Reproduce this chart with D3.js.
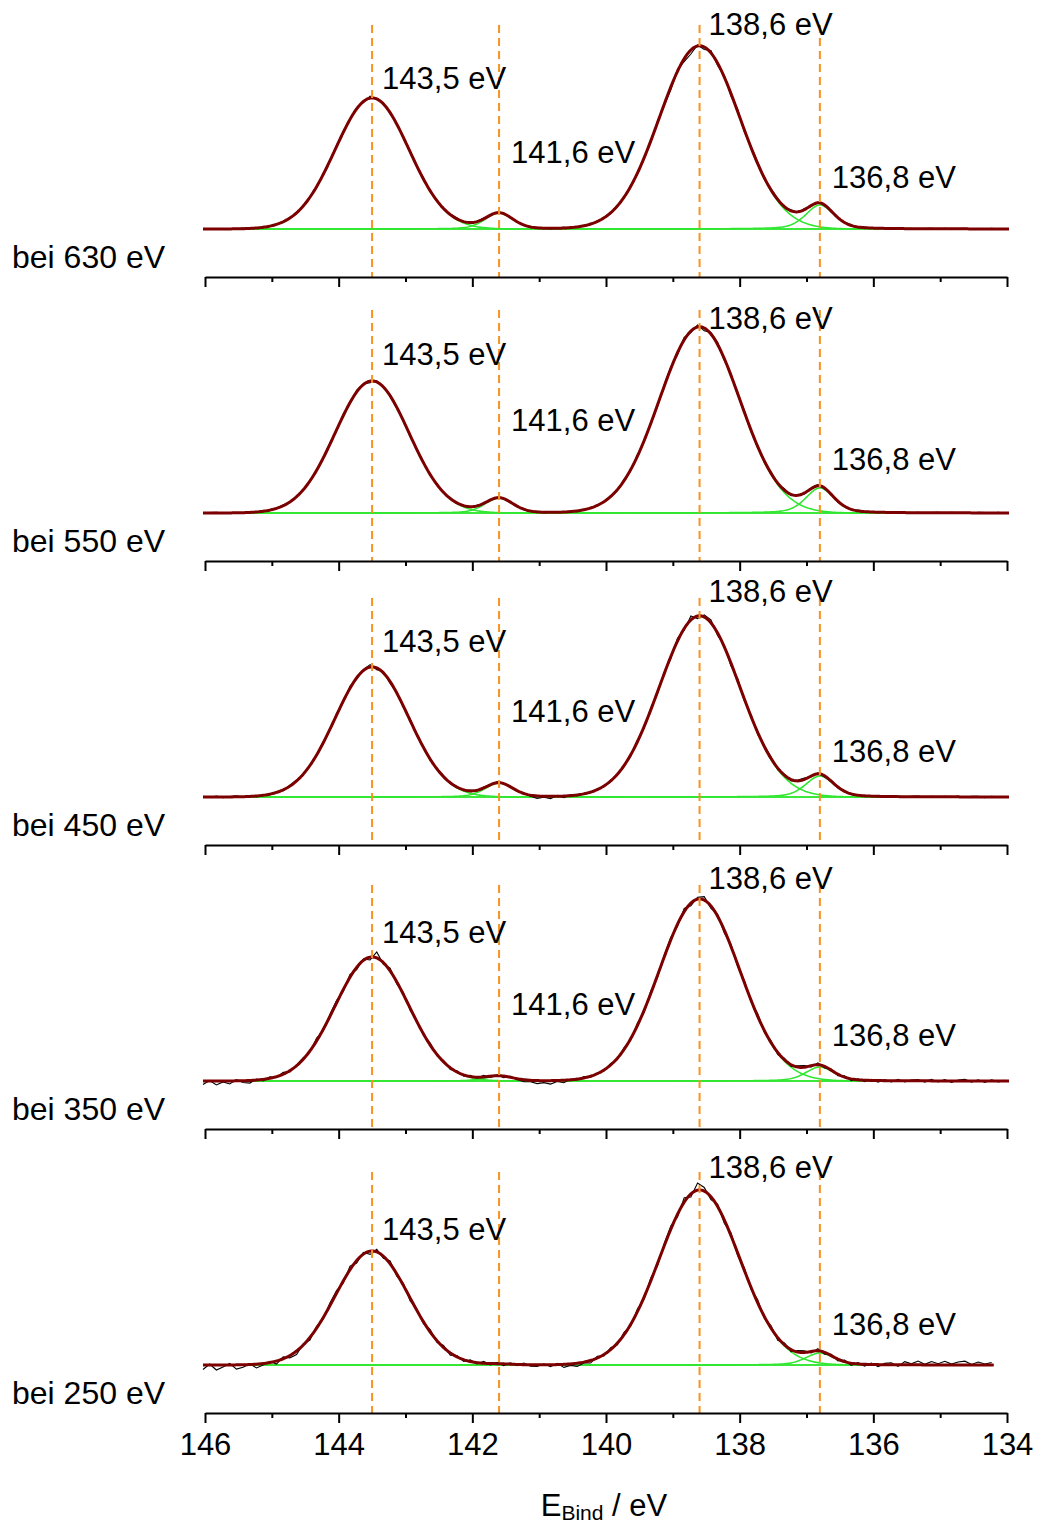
<!DOCTYPE html>
<html>
<head>
<meta charset="utf-8">
<script src="https://cdn.jsdelivr.net/npm/d3@7"></script>
<style>
  body { margin: 0; background: #fff; }
  svg { display: block; }
  text { font-family: "Liberation Sans", Arial, Helvetica, sans-serif; fill: #000; }
</style>
</head>
<body>
<svg id="chart" width="1037" height="1523"></svg>
<script>
// ---- Spectra: B 2p region measured at five excitation energies ----
const excitation = ["bei 630 eV", "bei 550 eV", "bei 450 eV", "bei 350 eV", "bei 250 eV"];

// Fitted components (binding energy, eV) and their labels
const peakCenters = [143.5, 141.6, 138.6, 136.8];
const peakLabels  = ["143,5 eV", "141,6 eV", "138,6 eV", "136,8 eV"];
const peakFwhm    = [1.3, 0.5, 1.42, 0.5];
const peakLorentz = [0.0, 0.3, 0.0, 0.4];

// Component heights (a.u.) per excitation energy
const heights630 = [131, 16, 183, 24];
const heights550 = [132, 15, 186, 25];
const heights450 = [130, 14, 181, 21];
const heights350 = [124, 5, 182, 14];
const heights250 = [114, 1, 175, 12];

// Measured range (eV) per spectrum
const rangeStart = [146.03, 146.03, 146.03, 146.03, 146.03];
const rangeEnd   = [133.97, 133.97, 133.97, 133.97, 134.2];
const sampleStep = 0.1;

// Measured minus fit (a.u.), one value per 0.1 eV from the start of the range downwards
const resid630 = [
  0.4,-0.3,0.2,0.5,-0.4,0.1,0.6,-0.2,0.3,-0.5,
  0.2,0.7,-0.4,0.5,-0.6,1.0,0.4,-0.8,0.9,-0.5,
  1.2,-0.9,0.6,1.4,-1.1,2.0,-0.6,1.3,-1.4,0.8,
  -1.2,1.0,-0.7,1.1,-0.5,0.8,-0.9,0.6,1.0,-0.6,
  0.5,-0.4,0.7,-0.5,0.4,0.6,-0.6,0.3,-0.5,0.6,
  -0.4,0.5,-0.6,0.4,0.6,-0.3,0.3,-0.5,0.7,-0.6,
  0.5,-0.7,0.9,-1.0,1.3,-1.6,0.9,-1.8,1.5,-1.3,
  -2.8,1.9,-3.0,-4.0,1.0,-2.5,2.4,-2.2,1.6,-2.5,
  2.2,-1.9,1.3,1.6,-1.2,0.9,1.4,-0.9,1.2,-0.6,
  1.1,-0.9,0.7,-0.6,1.0,-0.5,0.4,0.6,-0.7,0.5,
  -0.4,0.3,0.5,-0.4,0.6,-0.3,0.4,-0.5,0.3,0.4,
  -0.3,0.5,-0.4,0.3,0.6,-0.5,0.4,-0.3,0.5,-0.4,
  0.3];
const resid550 = [
  -0.3,0.4,0.6,-0.2,0.3,-0.5,0.2,0.5,-0.4,0.3,
  -0.6,0.4,0.8,-0.3,0.5,-0.7,0.9,-0.4,0.6,1.0,
  -0.8,1.3,-1.0,1.7,0.5,-1.6,1.1,-0.7,1.5,-1.0,
  0.9,-1.3,0.7,1.0,-0.8,0.6,-0.5,0.9,-0.6,0.4,
  -0.5,0.6,-0.3,0.5,-0.6,0.4,0.7,-0.5,0.6,-0.4,
  0.5,-0.6,0.3,0.6,-0.4,0.5,-0.7,0.4,-0.3,0.6,
  -0.5,0.8,-0.9,1.1,-0.8,1.4,-1.2,1.0,-1.7,1.5,
  1.8,-2.2,2.6,-1.5,1.9,-2.8,1.4,2.1,-1.9,1.6,
  -1.8,2.0,-1.4,1.1,-1.6,1.3,-0.8,1.5,-1.2,0.9,
  -1.0,0.8,1.2,-0.9,0.7,-1.1,0.6,-0.5,0.8,-0.4,
  0.5,-0.4,0.3,0.6,-0.5,0.4,-0.3,0.5,-0.6,0.3,
  0.4,-0.5,0.6,-0.3,0.4,-0.6,0.5,0.3,-0.4,0.5,
  -0.3];
const resid450 = [
  0.6,-0.5,0.8,-0.7,0.4,0.9,-0.6,0.5,-0.8,0.7,
  -0.4,0.9,-0.8,0.6,1.1,-0.7,0.5,-1.0,1.2,-0.6,
  1.6,-1.2,2.2,-1.5,0.9,2.5,-1.8,1.4,-2.0,1.1,
  -1.5,1.8,-1.0,1.3,-1.4,0.9,1.1,-0.8,0.7,-1.0,
  0.8,-0.6,0.9,-0.7,1.0,-0.5,0.6,-0.9,0.8,-1.1,
  -2.4,-1.0,-2.2,0.9,-1.6,1.0,-0.8,0.6,-0.7,0.9,
  -0.8,1.1,-1.2,0.9,-1.5,1.8,-1.3,2.0,-1.6,1.4,
  -2.2,2.8,-1.6,4.0,-2.6,2.1,3.0,-2.4,1.8,-2.9,
  2.3,-1.7,1.5,-2.1,1.2,1.6,-1.4,1.0,-1.3,0.8,
  1.2,-1.0,0.9,-1.3,1.1,-0.7,0.8,-0.9,0.6,-0.8,
  0.7,-0.6,0.8,-0.5,0.6,-0.7,0.5,0.8,-0.6,0.4,
  -0.7,0.6,-0.5,0.8,-0.6,0.5,0.7,-0.8,0.6,-0.5,
  0.4];
const resid350 = [
  -3.5,0.5,-4.0,-1.0,-3.0,1.2,-1.8,-2.6,1.0,-1.6,
  1.4,-0.9,1.8,-1.3,0.7,1.6,-1.0,2.8,-1.5,2.2,
  2.6,-1.8,3.0,-2.4,1.5,-2.8,6.0,-1.6,2.7,-2.0,
  1.8,-2.3,1.4,-1.7,2.0,-1.2,1.6,-1.9,1.1,-1.4,
  1.2,-1.0,1.5,-1.3,0.9,-1.6,1.1,-0.8,-1.9,-1.4,
  -3.0,-2.0,-3.5,-1.0,-2.5,0.5,-0.9,1.3,-1.1,0.7,
  -1.0,1.4,-1.3,1.8,-1.5,2.2,-1.9,2.5,-2.1,1.7,
  2.6,-2.0,3.2,-2.8,1.9,3.4,-2.4,2.0,-3.0,2.2,
  -2.4,2.1,-1.8,2.6,-1.6,1.9,-2.2,1.5,-1.7,1.2,
  1.5,-1.2,1.8,-1.5,1.1,-1.6,1.3,-1.8,1.0,-1.4,
  1.2,-1.6,1.0,-1.3,1.5,-1.1,0.8,1.4,-1.2,1.6,
  -1.0,1.3,-1.5,0.9,1.6,-1.2,1.1,-1.4,1.2,-0.9,
  0.6];
const resid250 = [
  -4.5,1.0,-5.0,-2.0,1.5,-4.2,-2.5,0.8,-3.8,-1.5,
  1.2,-3.0,1.8,-2.4,-3.6,1.0,-2.6,1.8,-1.5,2.5,
  2.8,-2.2,3.5,-2.6,1.8,-3.2,2.6,-2.0,3.0,-2.4,
  2.2,-2.8,1.6,-2.0,2.5,-1.6,2.1,-2.3,1.4,-1.8,
  1.6,-1.3,1.9,-1.5,1.2,-1.9,1.4,-1.1,1.7,-1.3,
  -1.6,1.1,-1.9,1.3,-3.0,-1.5,-3.2,-0.8,-2.6,1.6,
  -1.5,1.9,-1.7,2.3,-2.0,2.6,-2.2,2.9,-2.5,2.1,
  3.2,-2.6,4.5,-3.0,7.0,3.6,-2.8,2.5,-3.4,2.6,
  -2.8,2.4,-2.1,3.0,-1.9,2.3,-2.6,1.8,-2.0,1.5,
  1.8,-1.5,2.1,-1.8,1.4,-1.9,1.6,-2.1,1.3,-1.7,
  1.5,-1.9,1.3,2.0,-1.6,3.2,1.0,3.8,0.6,3.4,
  1.2,3.6,0.8,3.0,3.8,0.5,2.9,1.0,2.4];

// Which peak labels are printed in each panel
const labelShown = [
  [true, true, true, true],
  [true, true, true, true],
  [true, true, true, true],
  [true, true, true, true],
  [true, false, true, true]
];

const majorTicks = [146, 144, 142, 140, 138, 136, 134];
const minorTicks = [145, 143, 141, 139, 137, 135];
const axisTitle = { main: "E", sub: "Bind", rest: " / eV" };

const heights = [heights630, heights550, heights450, heights350, heights250];
const resids  = [resid630, resid550, resid450, resid350, resid250];

// ---- Layout ----
const firstAxisY = 277, panelStep = 284, baselineGap = 48;
// label baselines relative to each panel's axis line
const labelOffset = [
  [-188, -114, -242, -89],
  [-196, -130, -232, -91],
  [-193, -123, -243, -83],
  [-186, -114, -240, -83],
  [-173, -114, -235, -78]
];
const dashTopOffset = [-252, -251, -247, -244, -241];
const labelDx = [10, 12, 9, 12];

const colors = { data: "#000", fit: "#7d0000", comp: "#30e630", guide: "#f7931e" };

const svg = d3.select("#chart");
const x = d3.scaleLinear().domain([146, 134]).range([205, 1007]);

// pseudo-Voigt line shape of one fitted component
function component(e, k, h) {
  const d = e - peakCenters[k], w = peakFwhm[k], eta = peakLorentz[k];
  const g = Math.exp(-4 * Math.LN2 * d * d / (w * w));
  const l = 1 / (1 + 4 * d * d / (w * w));
  return h[k] * ((1 - eta) * g + eta * l);
}
function fitAt(e, h) {
  let s = 0;
  for (let k = 0; k < peakCenters.length; k++) s += component(e, k, h);
  return s;
}

excitation.forEach((name, p) => {
  const axisY = firstAxisY + p * panelStep;
  const y = d3.scaleLinear().domain([-baselineGap, 0]).range([axisY, axisY - baselineGap]);
  const h = heights[p];
  const g = svg.append("g");

  const fine = d3.range(rangeStart[p], rangeEnd[p] - 1e-9, -0.02).concat([rangeEnd[p]]);
  const samples = resids[p].map((r, i) => {
    const e = Math.max(rangeStart[p] - i * sampleStep, rangeEnd[p]);
    return { e, v: fitAt(e, h) + r };
  });

  // components
  peakCenters.forEach((c, k) => {
    g.append("path")
      .datum(fine)
      .attr("fill", "none")
      .attr("stroke", colors.comp)
      .attr("stroke-width", 1.6)
      .attr("d", d3.line().x(e => x(e)).y(e => y(component(e, k, h))));
  });

  // measured spectrum
  g.append("path")
    .datum(samples)
    .attr("fill", "none")
    .attr("stroke", colors.data)
    .attr("stroke-width", 1.1)
    .attr("d", d3.line().x(d => x(d.e)).y(d => y(d.v)));

  // envelope of the fit
  g.append("path")
    .datum(fine)
    .attr("fill", "none")
    .attr("stroke", colors.fit)
    .attr("stroke-width", 3)
    .attr("stroke-linejoin", "round")
    .attr("d", d3.line().x(e => x(e)).y(e => y(fitAt(e, h))));

  // guide lines at the component energies
  peakCenters.forEach(c => {
    g.append("line")
      .attr("x1", x(c)).attr("x2", x(c))
      .attr("y1", axisY + dashTopOffset[p]).attr("y2", axisY)
      .attr("stroke", colors.guide)
      .attr("stroke-width", 2)
      .attr("stroke-dasharray", "8,5");
  });

  // peak labels
  peakLabels.forEach((t, k) => {
    if (!labelShown[p][k]) return;
    g.append("text")
      .attr("x", x(peakCenters[k]) + labelDx[k])
      .attr("y", axisY + labelOffset[p][k])
      .attr("font-size", 31)
      .text(t);
  });

  // excitation energy label
  g.append("text")
    .attr("x", 12)
    .attr("y", axisY - 9)
    .attr("font-size", 32)
    .text(name);

  // axis
  const last = p === excitation.length - 1;
  const ax = g.append("g").attr("transform", `translate(0,${axisY})`)
    .call(d3.axisBottom(x).tickValues(majorTicks).tickSize(10).tickSizeOuter(0)
      .tickPadding(10).tickFormat(last ? d3.format("d") : () => ""));
  ax.select(".domain").attr("stroke-width", 2);
  ax.selectAll(".tick line").attr("stroke-width", 2);
  ax.selectAll(".tick text").attr("font-size", 31).attr("font-family", "Liberation Sans, Arial, sans-serif");

  const mn = g.append("g").attr("transform", `translate(0,${axisY})`)
    .call(d3.axisBottom(x).tickValues(minorTicks).tickSize(5).tickSizeOuter(0).tickFormat(() => ""));
  mn.select(".domain").remove();
  mn.selectAll(".tick line").attr("stroke-width", 2);
});

// axis title
const title = svg.append("text")
  .attr("x", 604)
  .attr("y", 1516)
  .attr("text-anchor", "middle")
  .attr("font-size", 31);
title.append("tspan").text(axisTitle.main);
title.append("tspan").attr("font-size", 21).attr("dy", 4).text(axisTitle.sub);
title.append("tspan").attr("dy", -4).text(axisTitle.rest);
</script>
</body>
</html>
